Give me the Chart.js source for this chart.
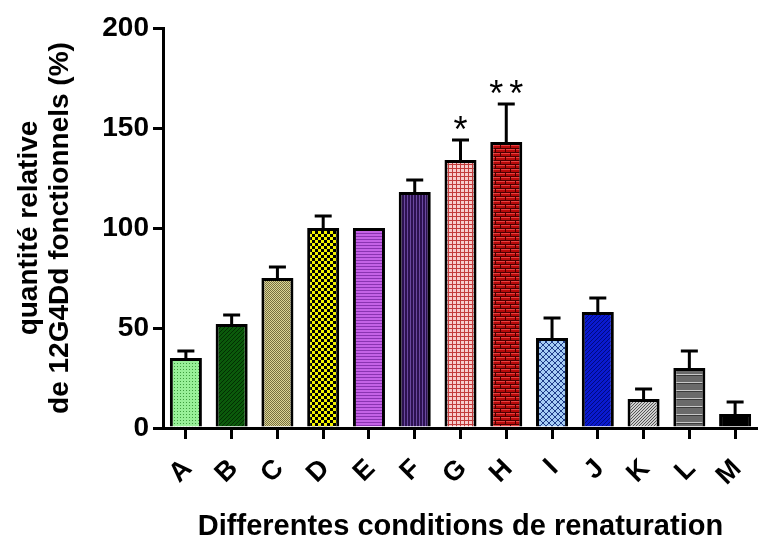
<!DOCTYPE html>
<html><head><meta charset="utf-8">
<script src="https://cdn.jsdelivr.net/npm/chart.js@4"></script>
<style>html,body{margin:0;padding:0;background:#fff}#wrap{width:758px;height:545px;position:relative}</style>
</head><body><div id="wrap"><canvas id="c" width="758" height="545"></canvas></div>
<script>
const categories = ['A','B','C','D','E','F','G','H','I','J','K','L','M'];
const values = [35, 52, 75, 100, 100, 118, 134, 143, 45, 58, 14.5, 30, 7];
const errors = [3.5, 4.5, 5.5, 6, 0, 6, 10, 19, 10, 7, 5, 8.5, 6];
const significance = ['', '', '', '', '', '', '*', '**', '', '', '', '', ''];
const yTicks = [0, 50, 100, 150, 200];
const xTitle = 'Differentes conditions de renaturation';
const yTitle = ['quantité relative', 'de 12G4Dd fonctionnels (%)'];

const FONT = '"Liberation Sans", Arial, sans-serif';
const mainCtx = document.getElementById('c').getContext('2d');
function pat(w, h, draw) {
  const c = document.createElement('canvas');
  c.width = w; c.height = h;
  const x = c.getContext('2d');
  draw(x, w, h);
  return mainCtx.createPattern(c, 'repeat');
}
function px(x, col, i, j, w, h) { x.fillStyle = col; x.fillRect(i, j, w || 1, h || 1); }
const fills = [
  pat(3, 3, (x) => { px(x, '#98f098', 0, 0, 3, 3); px(x, '#3e9e3e', 0, 0); }),
  pat(4, 4, (x) => { px(x, '#0b5a0b', 0, 0, 4, 4); for (let i = 0; i < 4; i++) px(x, '#022e02', i, 3 - i); }),
  pat(2, 2, (x) => { px(x, '#ddd596', 0, 0, 2, 2); px(x, '#767040', 0, 0); px(x, '#767040', 1, 1); }),
  pat(6, 6, (x) => { px(x, '#f4f400', 0, 0, 6, 6); px(x, '#000', 0, 0, 3, 3); px(x, '#000', 3, 3, 3, 3); }),
  pat(1, 3, (x) => { px(x, '#c462e6', 0, 0, 1, 3); px(x, '#8a34b2', 0, 2); }),
  pat(3, 1, (x) => { px(x, '#2c1250', 0, 0, 3, 1); px(x, '#6a48a0', 2, 0); }),
  pat(4, 4, (x) => { px(x, '#f6cccc', 0, 0, 4, 4); px(x, '#c23a3a', 0, 0, 4, 1); px(x, '#c23a3a', 0, 0, 1, 4); }),
  pat(10, 8, (x) => { px(x, '#b80a0a', 0, 0, 10, 8); px(x, '#4a0000', 0, 0, 10, 1); px(x, '#4a0000', 0, 4, 10, 1); px(x, '#4a0000', 0, 0, 1, 4); px(x, '#4a0000', 5, 4, 1, 4); px(x, '#e84040', 1, 1, 9, 1); px(x, '#e84040', 0, 5, 5, 1); px(x, '#e84040', 6, 5, 4, 1); }),
  pat(6, 6, (x) => { px(x, '#a6cdf5', 0, 0, 6, 6); for (let i = 0; i < 6; i++) { px(x, '#1e3c88', i, i); px(x, '#1e3c88', i, 5 - i); } }),
  pat(4, 4, (x) => { px(x, '#0a1ad0', 0, 0, 4, 4); for (let i = 0; i < 4; i++) px(x, '#000a80', i, 3 - i); }),
  pat(3, 3, (x) => { px(x, '#cfcfcf', 0, 0, 3, 3); for (let i = 0; i < 3; i++) px(x, '#555555', i, 2 - i); }),
  pat(1, 8, (x) => { px(x, '#6a6a6a', 0, 0, 1, 8); px(x, '#c8c8c8', 0, 6); px(x, '#3a3a3a', 0, 7); }),
  '#000000'
];

const errorBars = {
  id: 'errorBars',
  afterDatasetsDraw(chart) {
    const ctx = chart.ctx;
    const yS = chart.scales.y;
    const meta = chart.getDatasetMeta(0);
    ctx.save();
    ctx.strokeStyle = '#000';
    ctx.lineWidth = 3;
    ctx.lineCap = 'butt';
    meta.data.forEach((bar, i) => {
      const top = yS.getPixelForValue(values[i] + errors[i]);
      if (errors[i] > 0) {
        ctx.beginPath();
        ctx.moveTo(bar.x, bar.y);
        ctx.lineTo(bar.x, top);
        ctx.moveTo(bar.x - 8.5, top);
        ctx.lineTo(bar.x + 8.5, top);
        ctx.stroke();
      }
      if (significance[i]) {
        ctx.fillStyle = '#000';
        ctx.font = '36px ' + FONT;
        ctx.textAlign = 'center';
        ctx.textBaseline = 'alphabetic';
        ctx.letterSpacing = '6px';
        ctx.fillText(significance[i], bar.x + 3, top + 2);
      }
    });
    ctx.restore();
  }
};

new Chart(document.getElementById('c'), {
  type: 'bar',
  data: {
    labels: categories,
    datasets: [{
      data: values,
      backgroundColor: fills,
      borderColor: '#000',
      borderWidth: 3,
      barPercentage: 0.7,
      categoryPercentage: 1
    }]
  },
  options: {
    responsive: false,
    animation: false,
    devicePixelRatio: 1,
    layout: { padding: { top: 28, right: -3, left: 0, bottom: 0 } },
    plugins: { legend: { display: false }, tooltip: { enabled: false } },
    scales: {
      x: {
        afterFit: (s) => { s.height = 117; s.paddingLeft = 0; s.paddingRight = 0; },
        border: { color: '#000', width: 3 },
        grid: { offset: false, drawOnChartArea: false, drawTicks: true, tickLength: 11, color: '#000', lineWidth: 3 },
        ticks: { color: '#000', font: { family: FONT, size: 27, weight: 'bold' }, minRotation: 45, maxRotation: 45, autoSkip: false, padding: 14, labelOffset: 2 },
        title: { display: true, text: xTitle, color: '#000', font: { family: FONT, size: 29, weight: 'bold', lineHeight: 1.2 }, padding: { top: 0, bottom: 1 } }
      },
      y: {
        min: 0, max: 200,
        afterFit: (s) => { s.width = 163; s.paddingTop = 0; s.paddingBottom = 0; },
        afterBuildTicks: (s) => { s.ticks = yTicks.map(v => ({ value: v })); },
        border: { color: '#000', width: 3 },
        grid: { drawOnChartArea: false, drawTicks: true, tickLength: 10, color: '#000', lineWidth: 3 },
        ticks: { color: '#000', font: { family: FONT, size: 28, weight: 'bold' }, padding: 4 },
        title: { display: true, text: yTitle, color: '#000', font: { family: FONT, size: 28, weight: 'bold', lineHeight: 1.1 }, padding: { top: 14, bottom: 0 } }
      }
    }
  },
  plugins: [errorBars]
});
</script>
</body></html>
